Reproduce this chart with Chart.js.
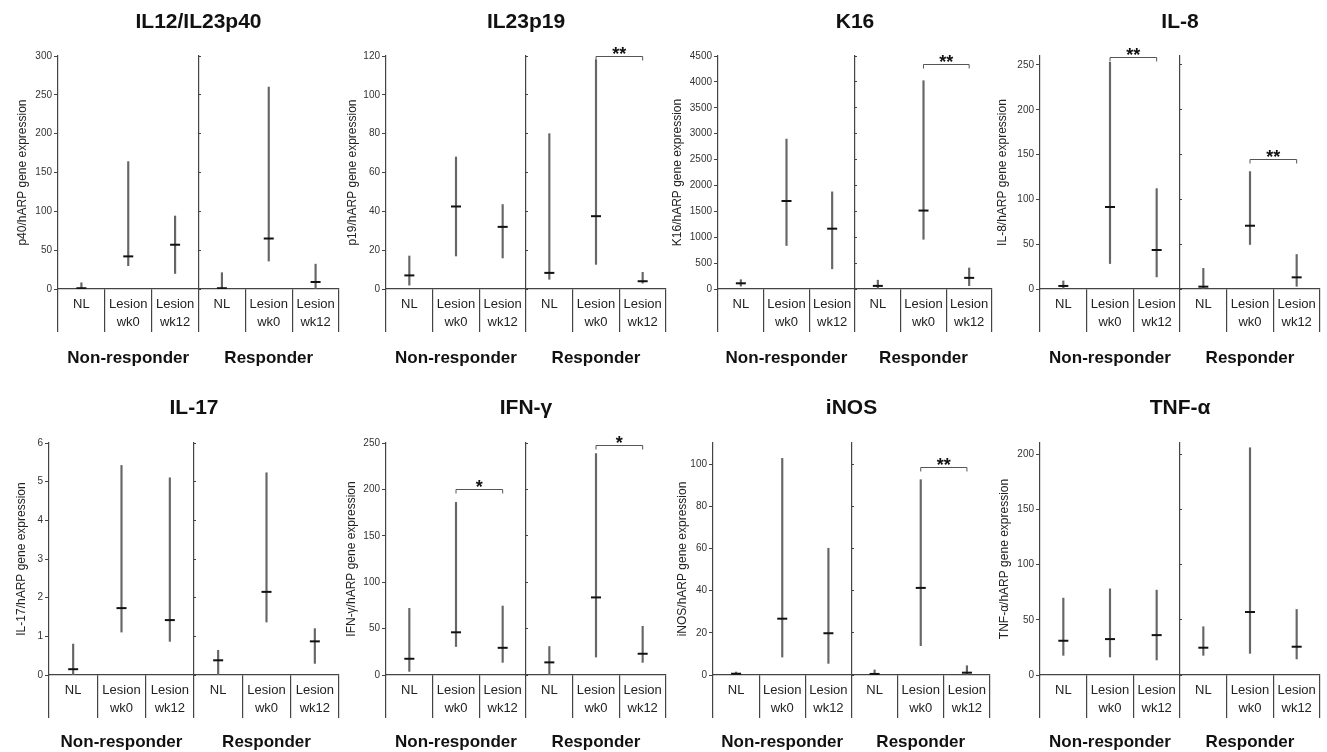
<!DOCTYPE html>
<html><head><meta charset="utf-8">
<script src="https://cdn.jsdelivr.net/npm/chart.js@4.4.1/dist/chart.umd.min.js"></script>
<style>
html,body{margin:0;padding:0;background:#fff;}
#wrap{position:relative;width:1327px;height:752px;overflow:hidden;background:#fff;}
canvas{position:absolute;}
</style></head><body><div id="wrap"></div>
<script>
// ---- categories / labels ----
const categories = ['NL', ['Lesion','wk0'], ['Lesion','wk12'], 'NL', ['Lesion','wk0'], ['Lesion','wk12']];
const groups = ['Non-responder', 'Responder'];

// ---- data (median, min, max per category); ticks = [axis min, axis max, step] ----
const p40Median = [1, 42, 57, 1, 65, 9];
const p40Min    = [0, 30, 20, 0, 36, 0];
const p40Max    = [8, 164, 94, 21, 260, 32];
const p40Ticks  = [0, 300, 50];

const p19Median = [7, 42.5, 32, 8.3, 37.5, 4];
const p19Min    = [2, 17, 16, 5, 12.7, 3];
const p19Max    = [17, 68, 43.5, 80, 118, 8.6];
const p19Ticks  = [0, 120, 20];
const p19Sig    = [{from: 4, to: 5, y: 120, label: '**'}];

const k16Median = [110, 1700, 1165, 60, 1515, 215];
const k16Min    = [55, 840, 390, 0, 960, 65];
const k16Max    = [180, 2895, 1876, 170, 4023, 406];
const k16Ticks  = [0, 4500, 500];
const k16Sig    = [{from: 4, to: 5, y: 4340, label: '**'}];

const il8Median = [3.4, 91.5, 43.5, 2.6, 70.6, 13];
const il8Min    = [0, 28.4, 13.5, 0, 49.7, 3];
const il8Max    = [9, 253, 112, 23, 131, 38.5];
const il8Ticks  = [0, 260, 50];
const il8Sig    = [{from: 1, to: 2, y: 259, label: '**'}, {from: 4, to: 5, y: 145, label: '**'}];

const il17Median = [0.15, 1.73, 1.42, 0.38, 2.15, 0.87];
const il17Min    = [0, 1.11, 0.87, 0, 1.37, 0.3];
const il17Max    = [0.8, 5.42, 5.1, 0.64, 5.23, 1.2];
const il17Ticks  = [0, 6, 1];

const ifnMedian = [17.5, 46, 29.3, 13.6, 83.6, 22.9];
const ifnMin    = [3.9, 30.7, 13.6, 0, 19.3, 13.6];
const ifnMax    = [71.8, 186, 74.3, 30.7, 238.6, 52.5];
const ifnTicks  = [0, 250, 50];
const ifnSig    = [{from: 1, to: 2, y: 200, label: '*'}, {from: 4, to: 5, y: 248, label: '*'}];

const inosMedian = [0.6, 26.7, 19.8, 0.5, 41.3, 1.1];
const inosMin    = [0, 8.5, 5.5, 0, 13.9, 0];
const inosMax    = [1.4, 102.7, 60.1, 2.4, 92.6, 4.4];
const inosTicks  = [0, 110, 20];
const inosSig    = [{from: 4, to: 5, y: 98.4, label: '**'}];

const tnfMedian = [31, 32.5, 36.1, 24.7, 57, 25.6];
const tnfMin    = [17.8, 16.3, 13.6, 17.8, 19.6, 14.5];
const tnfMax    = [69.6, 78, 76.8, 43.7, 205.7, 59.3];
const tnfTicks  = [0, 210, 50];

// ---- panel table (built from the arrays above) ----
const panels = [
  {title:'IL12/IL23p40', yTitle:'p40/hARP gene expression', med:p40Median, lo:p40Min, hi:p40Max, t:p40Ticks, sig:[], row:0, left:0,   w:346, axisW:58, tPad:15.8},
  {title:'IL23p19', yTitle:'p19/hARP gene expression', med:p19Median, lo:p19Min, hi:p19Max, t:p19Ticks, sig:p19Sig, row:0, left:330, w:343, axisW:56, tPad:15.8},
  {title:'K16', yTitle:'K16/hARP gene expression', med:k16Median, lo:k16Min, hi:k16Max, t:k16Ticks, sig:k16Sig, row:0, left:660, w:339, axisW:58, tPad:10.8},
  {title:'IL-8', yTitle:'IL-8/hARP gene expression', med:il8Median, lo:il8Min, hi:il8Max, t:il8Ticks, sig:il8Sig, row:0, left:990, w:337, axisW:50, tPad:5.8},
  {title:'IL-17', yTitle:'IL-17/hARP gene expression', med:il17Median, lo:il17Min, hi:il17Max, t:il17Ticks, sig:[], row:1, left:0, w:346, axisW:49, tPad:14.8},
  {title:'IFN-\u03b3', yTitle:'IFN-\u03b3/hARP gene expression', med:ifnMedian, lo:ifnMin, hi:ifnMax, t:ifnTicks, sig:ifnSig, row:1, left:330, w:343, axisW:56, tPad:14.8},
  {title:'iNOS', yTitle:'iNOS/hARP gene expression', med:inosMedian, lo:inosMin, hi:inosMax, t:inosTicks, sig:inosSig, row:1, left:660, w:337, axisW:53, tPad:15.8},
  {title:'TNF-\u03b1', yTitle:'TNF-\u03b1/hARP gene expression', med:tnfMedian, lo:tnfMin, hi:tnfMax, t:tnfTicks, sig:[], row:1, left:990, w:337, axisW:50, tPad:7.8}
];
const rows = [
  {top:0,   h:370, tTop:9.4,  tBot:21.4, gH:38, gPad:15.8},
  {top:370, h:382, tTop:25.4, tBot:22.4, gH:34, gPad:13.8}
];

Chart.defaults.font.family = "'Liberation Sans', Arial, sans-serif";
Chart.defaults.color = '#222';
const AX = '#444';

function bracketPlugin(list) {
  return {
    id: 'sigBrackets',
    afterDatasetsDraw(chart) {
      const ctx = chart.ctx, xs = chart.scales.x, ys = chart.scales.y;
      list.forEach(b => {
        const x1 = xs.getPixelForValue(b.from), x2 = xs.getPixelForValue(b.to);
        const y = Math.round(ys.getPixelForValue(b.y)) + 0.5;
        ctx.save();
        ctx.strokeStyle = '#555'; ctx.lineWidth = 1;
        ctx.beginPath();
        ctx.moveTo(x1, y + 4); ctx.lineTo(x1, y); ctx.lineTo(x2, y); ctx.lineTo(x2, y + 4);
        ctx.stroke();
        ctx.fillStyle = '#111';
        ctx.font = "bold 18px 'Liberation Sans', Arial, sans-serif";
        ctx.textAlign = 'center'; ctx.textBaseline = 'alphabetic';
        ctx.fillText(b.label, (x1 + x2) / 2, y + 3);
        ctx.restore();
      });
    }
  };
}

const wrap = document.getElementById('wrap');
panels.forEach(p => {
  const r = rows[p.row];
  const c = document.createElement('canvas');
  c.width = p.w; c.height = r.h;
  c.style.left = p.left + 'px'; c.style.top = r.top + 'px';
  c.style.width = p.w + 'px'; c.style.height = r.h + 'px';
  wrap.appendChild(c);
  const [yMin, yMax, step] = p.t;
  const tickValues = [];
  for (let k = 0; yMin + k * step <= yMax + 1e-9; k++) tickValues.push(+(yMin + k * step).toFixed(6));
  const setTicks = s => { s.ticks = tickValues.map(v => ({value: v})); };
  new Chart(c, {
    type: 'bar',
    data: {
      labels: categories,
      datasets: [
        {type: 'bar', data: p.lo.map((v, i) => [v, p.hi[i]]), backgroundColor: '#666', borderWidth: 0,
         barThickness: 1.5, xAxisID: 'x', yAxisID: 'y', order: 2},
        {type: 'line', data: p.med, showLine: false, pointStyle: 'line', pointRadius: 5, pointBorderWidth: 2,
         borderColor: '#111', pointBorderColor: '#111', backgroundColor: '#111', xAxisID: 'x', yAxisID: 'y', order: 1}
      ]
    },
    options: {
      responsive: false, animation: false, devicePixelRatio: 1, events: [],
      layout: {padding: {left: 0, right: 1, top: 0, bottom: 0}},
      plugins: {
        legend: {display: false}, tooltip: {enabled: false},
        title: {display: true, text: p.title, fullSize: false, color: '#111',
                font: {size: 21, weight: 'bold'}, padding: {top: r.tTop, bottom: r.tBot}}
      },
      scales: {
        x: {type: 'category', position: 'bottom', offset: true, weight: 0,
            grid: {offset: true, drawOnChartArea: false, tickLength: 43, color: AX, lineWidth: 1.2},
            border: {color: AX, width: 1.2},
            ticks: {color: '#222', font: {size: 13, lineHeight: 18 / 13}, padding: -37, maxRotation: 0, minRotation: 0, autoSkip: false},
            afterFit: s => { s.height = 43; }},
        x2: {type: 'category', axis: 'x', position: 'bottom', weight: 1, labels: groups, offset: true,
             grid: {display: false, drawTicks: false}, border: {display: false},
             ticks: {color: '#111', font: {size: 17, weight: 'bold'}, padding: r.gPad, maxRotation: 0, minRotation: 0, autoSkip: false},
             afterFit: s => { s.height = r.gH; }},
        y: {type: 'linear', position: 'left', min: yMin, max: yMax,
            ticks: {stepSize: step, color: '#333', font: {size: 10}, padding: 2, callback: v => String(v)},
            afterBuildTicks: setTicks,
            grid: {drawOnChartArea: false, tickLength: 4, color: AX, lineWidth: 1},
            border: {color: AX, width: 1.2},
            title: {display: true, text: p.yTitle, color: '#222', font: {size: 12}, padding: {top: p.tPad, bottom: 0}},
            afterFit: s => { s.width = p.axisW; }},
        yDiv: {type: 'linear', axis: 'y', position: {x: 2.5}, min: yMin, max: yMax,
               ticks: {stepSize: step, display: false},
               afterBuildTicks: setTicks,
               grid: {drawOnChartArea: false, tickLength: -3, color: AX, lineWidth: 1},
               border: {color: AX, width: 1.2},
               afterFit: s => { s.width = 0; }}
      }
    },
    plugins: [bracketPlugin(p.sig)]
  });
});
</script>
</body></html>
